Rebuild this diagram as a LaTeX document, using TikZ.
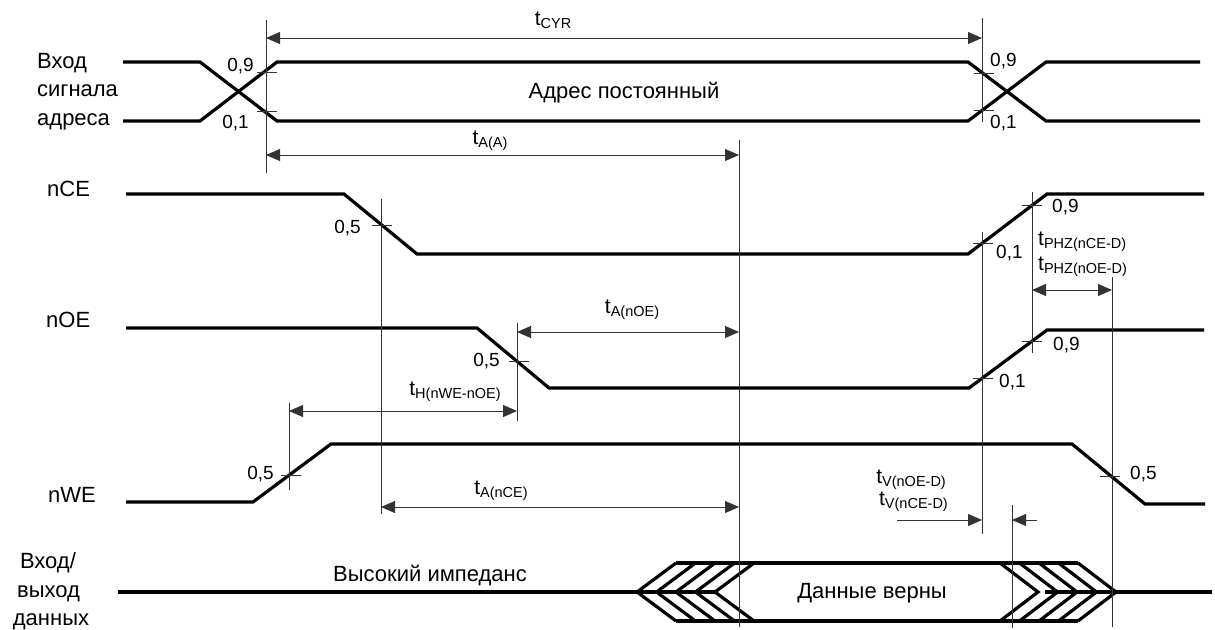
\documentclass[tikz,border=0pt]{standalone}
\usepackage{fontspec}
\setmainfont{Liberation Sans}
\usetikzlibrary{arrows.meta}
\newcommand\tsub[1]{{\fontsize{21}{21}\selectfont t}\raisebox{-3pt}{\fontsize{14.5}{14.5}\selectfont #1}}
\tikzset{
  sig/.style={line width=3.2pt},
  dim/.style={line width=0.9pt, draw=black!80},
  dimarr/.style={dim, {Triangle[length=14pt,width=12pt]}-{Triangle[length=14pt,width=12pt]}},
  dimto/.style={dim, -{Triangle[length=14pt,width=12pt]}},
  big/.style={font=\fontsize{22}{28.5}\selectfont, inner sep=0pt},
  small/.style={font=\fontsize{19}{22}\selectfont, inner sep=0pt},
  tlab/.style={inner sep=0pt},
}
\begin{document}
\begin{tikzpicture}[x=1pt,y=-1pt]
\useasboundingbox (0,0) rectangle (1215,629);

% ---------- signal names ----------
\node[big, anchor=base west] (n1) at (37,68) {Вход};
\node[big, anchor=base west] (n2) at (37,96.5) {сигнала};
\node[big, anchor=base west] (n3) at (37,125) {адреса};
\node[big, anchor=base west] (nce) at (47,196) {nCE};
\node[big, anchor=base west] (noe) at (46,327) {nOE};
\node[big, anchor=base west] (nwe) at (48,502) {nWE};
\node[big, anchor=base] (d1) at (48,568) {Вход/};
\node[big, anchor=base] (d2) at (48.5,597) {выход};
\node[big, anchor=base] (d3) at (51,625) {данных};

% ---------- signals ----------
\draw[sig] (123,62) -- (200,62) -- (277,121) -- (968,121) -- (1046,62) -- (1200,62);
\draw[sig] (123,121) -- (200,121) -- (277,62) -- (968,62) -- (1046,121) -- (1200,121);
\node[big, anchor=base] (addr) at (624,98) {Адрес постоянный};

\draw[sig] (126,194) -- (344,194) -- (417,254) -- (968,254) -- (1047,194) -- (1204,194);
\draw[sig] (126,328) -- (477,328) -- (549,388) -- (969,388) -- (1047,330) -- (1204,330);
\draw[sig] (126,502) -- (253,502) -- (331,444) -- (1072,444) -- (1145,504) -- (1205,504);

% data bus
\draw[sig] (118,592) -- (715,592);
\draw[sig] (676,563) -- (1078,563);
\draw[sig] (676,621) -- (1078,621);
\foreach \k in {0,...,4} {
  \draw[sig] ({676+19.5*\k},563) -- ({637+19.5*\k},592) -- ({676+19.5*\k},621);
  \draw[sig] ({1000+19.5*\k},563) -- ({1038+19.5*\k},592) -- ({1000+19.5*\k},621);
}
\draw[sig] (1045,592) -- (1212,592);
\node[big, anchor=base west] (hiz) at (333,581) {Высокий импеданс};
\node[big, anchor=base] (valid) at (872,598) {Данные верны};

% ---------- vertical reference lines ----------
\coordinate (v1t) at (266,20);   \coordinate (v1b) at (266,173);
\coordinate (v2t) at (982,18);   \coordinate (v2b) at (982,122);
\coordinate (v3t) at (739,140);  \coordinate (v3b) at (739,627);
\coordinate (v4t) at (381,199);  \coordinate (v4b) at (381,514);
\coordinate (v5t) at (517,323);  \coordinate (v5b) at (517,421);
\coordinate (v6t) at (289,403);  \coordinate (v6b) at (289,490);
\coordinate (v7t) at (982,232);  \coordinate (v7b) at (982,534);
\coordinate (v8t) at (1032,192); \coordinate (v8b) at (1032,353);
\coordinate (v9t) at (1112,277); \coordinate (v9b) at (1112,627);
\coordinate (v10t) at (1012,505); \coordinate (v10b) at (1012,628);
\foreach \v in {v1,v2,v3,v4,v5,v6,v7,v8,v9,v10} \draw[dim] (\v t) -- (\v b);

% ---------- threshold ticks ----------
\foreach \x/\y in {267/72, 267/111, 984/73, 984/110, 382/225, 519/361,
  983/243, 1032/205, 983/378, 1032/341, 291/475, 1110/476}
  \draw[dim] (\x-10,\y) -- (\x+10,\y);

% ---------- threshold values ----------
\node[small, anchor=east] (a9) at (254,66) {0,9};
\node[small, anchor=east] (a1) at (249,123) {0,1};
\node[small, anchor=west] (b9) at (990,61) {0,9};
\node[small, anchor=west] (b1) at (990,123) {0,1};
\node[small, anchor=east] (c5) at (361,228) {0,5};
\node[small, anchor=west] (c1) at (996,253) {0,1};
\node[small, anchor=west] (c9) at (1052,207) {0,9};
\node[small, anchor=east] (o5) at (500,361) {0,5};
\node[small, anchor=west] (o9) at (1053,345) {0,9};
\node[small, anchor=west] (o1) at (999,382) {0,1};
\node[small, anchor=east] (w5) at (274,474) {0,5};
\node[small, anchor=west] (w5r) at (1130,474) {0,5};

% ---------- timing arrows ----------
\coordinate (cyrL) at (266,38);  \coordinate (cyrR) at (982,38);
\coordinate (aaL) at (266,155);  \coordinate (aaR) at (739,155);
\coordinate (aoeL) at (517,332); \coordinate (aoeR) at (739,332);
\coordinate (hL) at (289,411);   \coordinate (hR) at (517,411);
\coordinate (aceL) at (381,507); \coordinate (aceR) at (739,507);
\coordinate (phzL) at (1032,290); \coordinate (phzR) at (1112,290);
\coordinate (tvA) at (897,520);  \coordinate (tvB) at (982,520);
\coordinate (tvC) at (1037,520); \coordinate (tvD) at (1012,520);
\draw[dimarr] (cyrL) -- (cyrR);
\draw[dimarr] (aaL) -- (aaR);
\draw[dimarr] (aoeL) -- (aoeR);
\draw[dimarr] (hL) -- (hR);
\draw[dimarr] (aceL) -- (aceR);
\draw[dimarr] (phzL) -- (phzR);
\draw[dimto] (tvA) -- (tvB);
\draw[dimto] (tvC) -- (tvD);

\node[tlab] (lcyr) at (553,20) {\tsub{CYR}};
\node[tlab] (laa) at (490,141) {\tsub{A(A)}};
\node[tlab] (laoe) at (632,310) {\tsub{A(nOE)}};
\node[tlab] (lh) at (455,392) {\tsub{H(nWE-nOE)}};
\node[tlab] (lace) at (501,491) {\tsub{A(nCE)}};
\node[tlab, anchor=west] (lphz1) at (1038,242) {\tsub{PHZ(nCE-D)}};
\node[tlab, anchor=west] (lphz2) at (1038,267) {\tsub{PHZ(nOE-D)}};
\node[tlab, anchor=east] (ltv1) at (946,480) {\tsub{V(nOE-D)}};
\node[tlab, anchor=east] (ltv2) at (948,502) {\tsub{V(nCE-D)}};
\end{tikzpicture}
\end{document}
